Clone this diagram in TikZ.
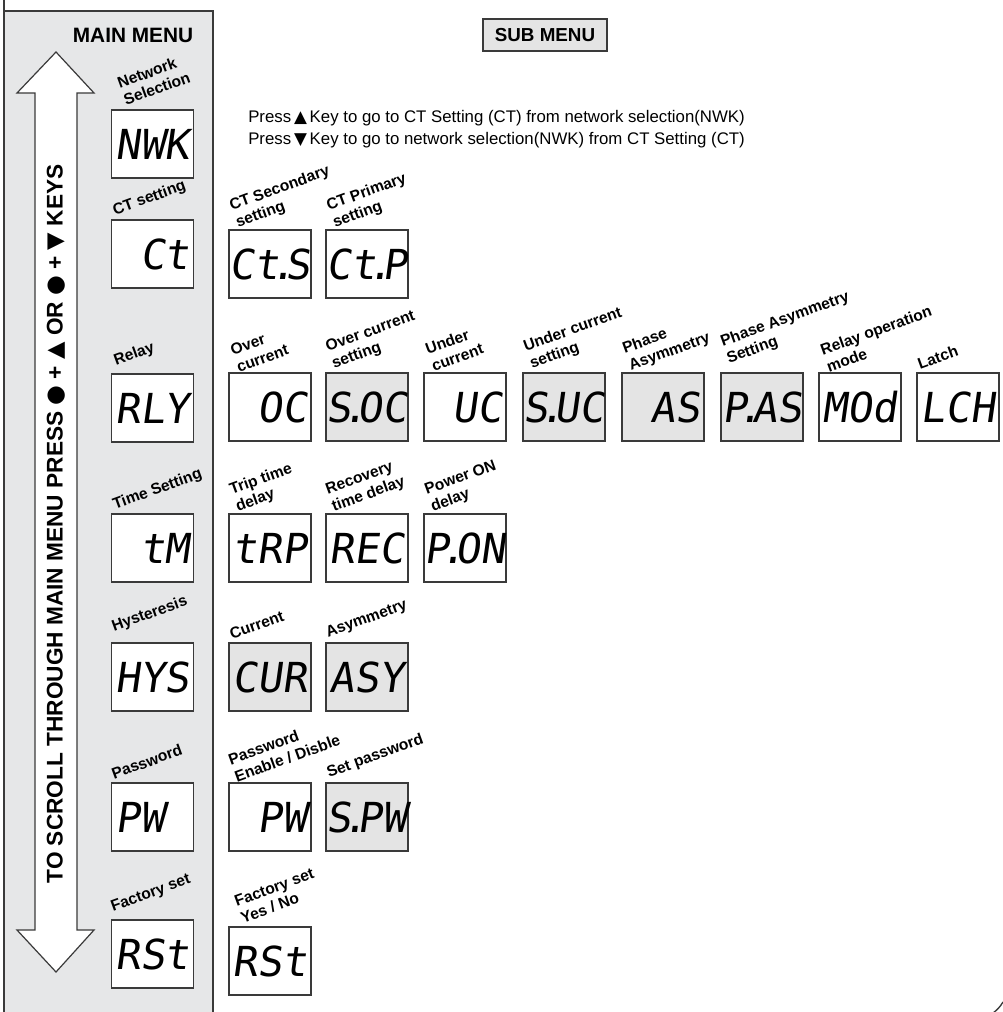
\documentclass[tikz,border=0pt]{standalone}
\usepackage{fontspec}
\setmainfont{Liberation Sans}
\newfontfamily\segfont[FakeSlant=0.14]{DejaVu Sans Mono}
\newfontfamily\symfont{DejaVu Sans}
\definecolor{panelgray}{HTML}{E6E7E8}
\definecolor{subgray}{HTML}{E4E4E4}
\definecolor{boxline}{HTML}{3A3A3A}
\newcommand\blankcell{\phantom{0}}
\newcommand\decpt{\makebox[0.13em]{.}}
\tikzset{
  disp/.style={draw=boxline, line width=0.9pt, fill=white, minimum width=61.5pt,
    minimum height=51pt, inner sep=0pt, font=\segfont\fontsize{31}{31}\selectfont},
  dispgray/.style={disp, fill=subgray},
  lbl/.style={font=\bfseries\fontsize{11.7}{13.5}\selectfont, rotate=20,
    anchor=south west, align=left, inner sep=0pt},
  frameline/.style={draw=boxline, line width=1pt},
}
\begin{document}
\begin{tikzpicture}[x=0.75pt,y=-0.75pt]
\useasboundingbox (0,0) rectangle (1002,1012);
% panel and frame
\fill[panelgray] (4,11) rectangle (213,1013);
\draw[frameline] (4,-2) -- (4,1014);
\draw[frameline] (4,11) -- (213,11) -- (213,1014);
\draw[frameline] (993,1013) .. controls (997,1010) and (1000,1007) .. (1003,1002);
% double arrow
\draw[fill=white, draw=boxline, line width=0.9pt] (35,93) -- (17,93) -- (56,52) -- (94,93) -- (77,93)
  -- (77,930) -- (94,930) -- (56,972) -- (17,930) -- (35,930) -- cycle;
\node[rotate=90, font=\bfseries\fontsize{17}{17}\selectfont] (scroll) at (56,524)
  {TO SCROLL THROUGH MAIN MENU PRESS {\symfont●} + {\symfont▲} OR {\symfont●} + {\symfont▼} KEYS};
% headings
\node[font=\bfseries\fontsize{15.6}{16}\selectfont] (mainmenu) at (133,35) {MAIN MENU};
\node[draw=boxline, line width=0.9pt, fill=subgray, minimum width=93pt, minimum height=24pt,
  inner sep=0pt, font=\bfseries\fontsize{14.1}{16}\selectfont] (submenu) at (545,35) {SUB MENU};
\node[anchor=base west, inner sep=0pt, font=\fontsize{12.6}{14}\selectfont] (press1) at (248,123)
  {Press\,{\symfont▲}\,Key to go to CT Setting (CT) from network selection(NWK)};
\node[anchor=base west, inner sep=0pt, font=\fontsize{12.6}{14}\selectfont] (press2) at (248,145)
  {Press\,{\symfont▼}\,Key to go to network selection(NWK) from CT Setting (CT)};
% main menu displays
\node[disp] (nwk) at (152.5,144) {NWK};
\node[disp] (ct)  at (152.5,254) {\blankcell Ct};
\node[disp] (rly) at (152.5,408) {RLY};
\node[disp] (tm)  at (152.5,548) {\blankcell tM};
\node[disp] (hys) at (152.5,677) {HYS};
\node[disp] (pw)  at (152.5,817) {PW\blankcell};
\node[disp] (rst) at (152.5,954) {RSt};
% main labels
\node[lbl] (lnwk) at (126,106) {Network\\Selection};
\node[lbl] (lct)  at (116,219) {CT setting};
\node[lbl] (lrly) at (117,369) {Relay};
\node[lbl] (ltm)  at (116,513) {Time Setting};
\node[lbl] (lhys) at (115,635) {Hysteresis};
\node[lbl] (lpw)  at (114,780) {Password};
\node[lbl] (lrst) at (114,915) {Factory set};
% sub menu: CT row
\node[disp] (cts) at (270,264) {Ct\decpt S};
\node[disp] (ctp) at (367,264) {Ct\decpt P};
\node[lbl] (lcts) at (239,231) {CT Secondary\\setting};
\node[lbl] (lctp) at (336,231) {CT Primary\\setting};
% relay row
\node[disp]     (oc)  at (270,407) {\blankcell OC};
\node[dispgray] (soc) at (367,407) {S\decpt OC};
\node[disp]     (uc)  at (465,407) {\blankcell UC};
\node[dispgray] (suc) at (564,407) {S\decpt UC};
\node[dispgray] (as)  at (663,407) {\blankcell AS};
\node[dispgray] (pas) at (762,407) {P\decpt AS};
\node[disp]     (mod) at (860,407) {MOd};
\node[disp]     (lch) at (958,407) {LCH};
\node[lbl] (loc)  at (239,373) {Over\\current};
\node[lbl] (lsoc) at (335,372) {Over current\\setting};
\node[lbl] (luc)  at (434,372) {Under\\current};
\node[lbl] (lsuc) at (533,372) {Under current\\setting};
\node[lbl] (las)  at (632,374) {Phase\\Asymmetry};
\node[lbl] (lpas) at (730,367) {Phase Asymmetry\\Setting};
\node[lbl] (lmod) at (829,373) {Relay operation\\mode};
\node[lbl] (llch) at (920,370) {Latch};
% time row
\node[lbl] (ltrp) at (239,515) {Trip time\\delay};
\node[lbl] (lrec) at (335,515) {Recovery\\time delay};
\node[lbl] (lpon) at (434,515) {Power ON\\delay};
\node[disp] (trp) at (270,548) {tRP};
\node[disp] (rec) at (367,548) {REC};
\node[disp] (pon) at (465,548) {P\decpt ON};
% hysteresis row
\node[dispgray] (cur) at (270,677) {CUR};
\node[dispgray] (asy) at (367,677) {ASY};
\node[lbl] (lcur) at (232,640) {Current};
\node[lbl] (lasy) at (329,641) {Asymmetry};
% password row
\node[disp]     (pwe) at (270,817) {\blankcell PW};
\node[dispgray] (spw) at (367,817) {S\decpt PW};
\node[lbl] (lpwe) at (237,783) {Password\\Enable / Disble};
\node[lbl] (lspw) at (330,781) {Set password};
% factory row
\node[disp] (rsts) at (270,961) {RSt};
\node[lbl] (lrsts) at (243,924) {Factory set\\Yes / No};
\end{tikzpicture}
\end{document}
